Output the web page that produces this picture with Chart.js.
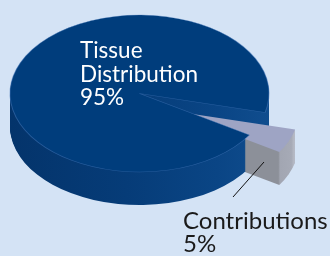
<!DOCTYPE html>
<html><head><meta charset="utf-8">
<script src="https://cdn.jsdelivr.net/npm/chart.js@4/dist/chart.umd.min.js"></script>
<style>
html,body{margin:0;padding:0;background:#d4e3f5;}
#wrap{width:330px;height:256px;position:relative;}
canvas{display:block;}
</style></head><body>
<div id="wrap"><canvas id="c" width="330" height="256"></canvas></div>
<script>
// ---- data ----
const categories = ['Tissue Distribution', 'Contributions'];
const labelLines = [['Tissue', 'Distribution'], ['Contributions']];
const values = [95, 5];

// ---- styles ----
const topColors = ['#003d7c', '#9ea4c4'];
const textColors = ['#ffffff', '#1a1a1a'];

const pie3d = {
  id: 'pie3d',
  beforeDatasetsDraw(chart, args, opts) {
    const ctx = chart.ctx;
    const arcs = chart.getDatasetMeta(0).data;
    if (!arcs.length) return false;
    const a0 = arcs[0];
    const R = a0.outerRadius, cx0 = a0.x, cy0 = a0.y;
    const sx = opts.rx / R, sy = opts.ry / R;
    const setT = (i, d) => {
      const e = opts.explode[i] || [0, 0];
      ctx.translate(e[0], e[1] + d);
      ctx.translate(opts.cx, opts.cy);
      ctx.scale(sx, sy);
      ctx.translate(-cx0, -cy0);
    };
    const drawArc = (arc, fill, stroke, bw) => {
      const p = Object.create(arc);
      p.options = Object.assign({}, arc.options, {backgroundColor: fill, borderColor: stroke || fill, borderWidth: bw || 0, offset: 0});
      arc.draw.call(p, ctx);
    };
    // side fills
    const g0 = ctx.createLinearGradient(cx0 - R, 0, cx0 + R, 0);
    g0.addColorStop(0, '#04346b');
    g0.addColorStop(0.45, '#063c78');
    g0.addColorStop(0.8, '#0a4585');
    g0.addColorStop(1, '#104d8e');
    const a1 = arcs[1];
    const ux = cx0 + R * Math.cos(a1.endAngle);
    const g1 = ctx.createLinearGradient(ux - 1, 0, ux + R * 0.16, 0);
    g1.addColorStop(0, '#8c9099');
    g1.addColorStop(0.08, '#a2a6b2');
    g1.addColorStop(0.6, '#a6aab6');
    g1.addColorStop(0.7, '#b3b7c2');
    g1.addColorStop(1, '#a4a8b4');
    const sideFill = [g0, g1];
    const order = [1, 0];
    for (let d = opts.depth; d >= 1; d--) {
      for (const i of order) { ctx.save(); setT(i, d); drawArc(arcs[i], sideFill[i]); ctx.restore(); }
    }
    for (const i of order) {
      ctx.save(); setT(i, 0);
      drawArc(arcs[i], topColors[i], opts.edgeColors[i], opts.edgeColors[i] ? 1 : 0);
      ctx.restore();
    }
    return false;
  },
  afterDraw(chart, args, opts) {
    const ctx = chart.ctx;
    const total = values.reduce((a, b) => a + b, 0);
    ctx.save();
    ctx.textBaseline = 'alphabetic';
    ctx.textAlign = 'left';
    categories.forEach((c, i) => {
      const lines = labelLines[i].concat([Math.round(values[i] / total * 100) + '%']);
      ctx.font = opts.fonts[i];
      ctx.fillStyle = textColors[i];
      lines.forEach((t, k) => ctx.fillText(t, opts.pos[i][0], opts.pos[i][1] + k * opts.lineHeight[i]));
    });
    ctx.strokeStyle = '#111';
    ctx.lineWidth = 1;
    ctx.beginPath();
    ctx.moveTo(opts.leader[0], opts.leader[1]);
    ctx.lineTo(opts.leader[2], opts.leader[3]);
    ctx.stroke();
    ctx.restore();
  }
};

new Chart(document.getElementById('c'), {
  type: 'pie',
  data: {
    labels: categories,
    datasets: [{ data: values, backgroundColor: topColors, borderWidth: 0 }]
  },
  options: {
    responsive: false,
    animation: false,
    events: [],
    devicePixelRatio: 1,
    rotation: 122,
    layout: { padding: 0 },
    plugins: {
      legend: { display: false },
      tooltip: { enabled: false },
      pie3d: {
        cx: 139.5, cy: 93.5, rx: 129.5, ry: 78.5, depth: 33,
        explode: [[0, 0], [30, 17]],
        edgeColors: ['rgba(70,120,185,0.55)', null],
        fonts: ['22.5px Lato', '24px Lato'],
        pos: [[80, 58], [183, 229]],
        lineHeight: [23.5, 22.5],
        leader: [264, 162, 233, 197]
      }
    }
  },
  plugins: [pie3d]
});
</script>
</body></html>
